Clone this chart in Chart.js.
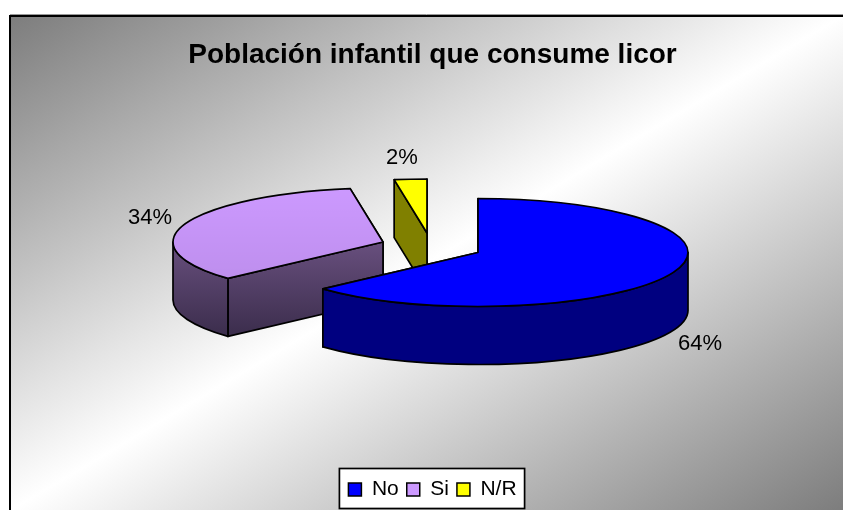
<!DOCTYPE html>
<html><head><meta charset="utf-8">
<style>html,body{margin:0;padding:0;background:#fff}canvas{display:block}</style>
<script src="https://cdn.jsdelivr.net/npm/chart.js@4"></script>
</head><body><canvas id="c" width="843" height="510"></canvas>
<script>
const titleText = 'Población infantil que consume licor';
const categories = ['No', 'Si', 'N/R'];
const seriesValues = [64, 34, 2];
const sliceColors = ['#0000FF', '#CC99FF', '#FFFF00'];
const dataLabels = ['64%', '34%', '2%'];

// view of the tilted, exploded pie
const sliceCentres = [[478, 252.5], [383, 242], [427, 233]];
const labelSpots = [[700, 343.5], [150, 218], [402, 158]];
const RX = 210, RY = 54, DEPTH = 58, LINE = 1.7;
const FRONT_TO_BACK = [2, 1, 0];
// the reference's projection pulls the slice boundaries slightly (degrees)
const boundaryShift = [-2.8, -1.8, 0];

function wallFill(ctx, i) {
  if (i === 0) return '#000080';
  if (i === 2) return '#808000';
  const g = ctx.createLinearGradient(0, 240, 0, 336);
  g.addColorStop(0, '#69507F');
  g.addColorStop(1, '#3B2D4C');
  return g;
}

const pie3d = {
  id: 'pie3d',
  beforeDraw(chart) {
    const ctx = chart.ctx;
    ctx.save();
    ctx.fillStyle = '#fff';
    ctx.fillRect(0, 0, chart.width, chart.height);
    const g = ctx.createLinearGradient(210, -102, 644, 628);
    g.addColorStop(0, '#7d7d7d');
    g.addColorStop(0.5, '#ffffff');
    g.addColorStop(1, '#7d7d7d');
    ctx.fillStyle = g;
    ctx.fillRect(10, 16, chart.width - 10, chart.height - 16);
    ctx.strokeStyle = '#000';
    ctx.lineWidth = 2;
    ctx.beginPath();
    ctx.moveTo(10, chart.height);
    ctx.lineTo(10, 16);
    ctx.lineTo(chart.width, 16);
    ctx.stroke();
    ctx.strokeStyle = '#999';
    ctx.lineWidth = 1;
    ctx.beginPath();
    ctx.moveTo(10, 14.5);
    ctx.lineTo(chart.width, 14.5);
    ctx.stroke();
    // legend frame, from the legend's own boxes
    const hb = chart.legend.legendHitBoxes;
    const left = hb[0].left - 9;
    const right = hb[hb.length - 1].left + hb[hb.length - 1].width + 8;
    ctx.fillStyle = '#fff';
    ctx.strokeStyle = '#000';
    ctx.lineWidth = 1.7;
    ctx.fillRect(left, 468.5, right - left, 40);
    ctx.strokeRect(left, 468.5, right - left, 40);
    ctx.restore();
  },
  beforeDatasetsDraw(chart) {
    const ctx = chart.ctx;
    const arcs = chart.getDatasetMeta(0).data;
    const deg = Math.PI / 180;
    ctx.save();
    ctx.lineJoin = 'round';
    ctx.strokeStyle = '#000';
    ctx.lineWidth = LINE;
    for (const i of FRONT_TO_BACK) {
      const arc = arcs[i];
      const [cx, cy] = sliceCentres[i];
      const a0 = arc.startAngle + (i > 0 ? boundaryShift[i - 1] * deg : 0);
      const a1 = arc.endAngle + boundaryShift[i] * deg;
      const fill = wallFill(ctx, i);
      // cut faces
      for (const a of [a1, a0]) {
        const px = cx + RX * Math.cos(a), py = cy + RY * Math.sin(a);
        ctx.beginPath();
        ctx.moveTo(cx, cy);
        ctx.lineTo(px, py);
        ctx.lineTo(px, py + DEPTH);
        ctx.lineTo(cx, cy + DEPTH);
        ctx.closePath();
        ctx.fillStyle = fill;
        ctx.fill();
        ctx.stroke();
      }
      // outer wall: only the part that faces the viewer
      const s = Math.max(a0, 0), e = Math.min(a1, Math.PI);
      if (e > s) {
        ctx.beginPath();
        ctx.ellipse(cx, cy, RX, RY, 0, s, e);
        ctx.ellipse(cx, cy + DEPTH, RX, RY, 0, e, s, true);
        ctx.closePath();
        ctx.fillStyle = fill;
        ctx.fill();
        ctx.stroke();
      }
      // top, drawn by the library's arc under the tilt
      const kept = [arc.startAngle, arc.endAngle, arc.circumference];
      arc.startAngle = a0;
      arc.endAngle = a1;
      arc.circumference = a1 - a0;
      ctx.save();
      ctx.translate(cx, cy);
      ctx.scale(RX / arc.outerRadius, RY / arc.outerRadius);
      ctx.translate(-arc.x, -arc.y);
      arc.draw(ctx);
      ctx.restore();
      [arc.startAngle, arc.endAngle, arc.circumference] = kept;
      const path = () => {
        ctx.beginPath();
        ctx.moveTo(cx, cy);
        ctx.ellipse(cx, cy, RX, RY, 0, a0, a1);
        ctx.closePath();
      };
      if (i === 1) {
        const sh = ctx.createLinearGradient(0, 187, 0, 280);
        sh.addColorStop(0, 'rgba(0,0,0,0)');
        sh.addColorStop(1, 'rgba(0,0,0,0.07)');
        path();
        ctx.fillStyle = sh;
        ctx.fill();
      }
      path();
      ctx.stroke();
    }
    ctx.fillStyle = '#000';
    ctx.font = '22px "Liberation Sans", Arial, sans-serif';
    ctx.textAlign = 'center';
    ctx.textBaseline = 'middle';
    dataLabels.forEach((t, i) => ctx.fillText(t, labelSpots[i][0], labelSpots[i][1]));
    ctx.restore();
    return false;
  }
};

new Chart(document.getElementById('c'), {
  type: 'pie',
  data: {
    labels: categories,
    datasets: [{ data: seriesValues, backgroundColor: sliceColors, borderWidth: 0 }]
  },
  plugins: [pie3d],
  options: {
    responsive: false,
    animation: false,
    layout: { padding: { left: 22, right: 0, top: 0, bottom: 0 } },
    plugins: {
      tooltip: { enabled: false },
      title: {
        display: true,
        text: titleText,
        color: '#000',
        padding: { top: 38.5, bottom: 10 },
        font: { family: '"Liberation Sans", Arial, sans-serif', size: 28, weight: 'bold', lineHeight: 1.2 }
      },
      legend: {
        position: 'bottom',
        labels: {
          boxWidth: 13, boxHeight: 13, padding: 8, color: '#000',
          font: { family: '"Liberation Sans", Arial, sans-serif', size: 21 },
          generateLabels(chart) {
            return Chart.overrides.pie.plugins.legend.labels.generateLabels(chart)
              .map(l => Object.assign(l, { strokeStyle: '#000', lineWidth: 1.5 }));
          }
        }
      }
    }
  }
});
</script></body></html>
